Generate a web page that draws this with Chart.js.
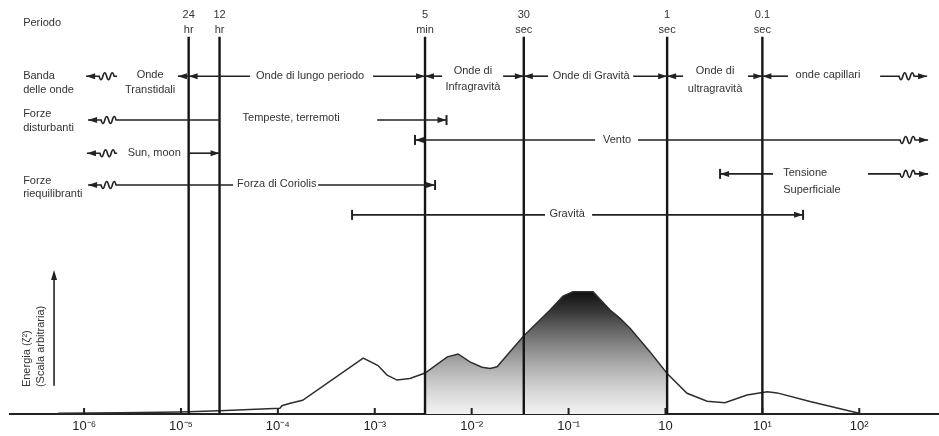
<!DOCTYPE html>
<html>
<head>
<meta charset="utf-8">
<script src="https://cdn.jsdelivr.net/npm/chart.js@4.4.0/dist/chart.umd.min.js"></script>
<style>
  html, body { margin: 0; padding: 0; background: #fff; }
</style>
</head>
<body>
<canvas id="myChart" width="939" height="436"></canvas>
<script>
// spectrum: frequency (Hz) and energy (arbitrary units)
const freq = [5.4e-7, 2.35e-6, 9.8e-6, 2.5e-5, 1.05e-4, 1.1e-4, 1.34e-4, 1.8e-4, 7.6e-4, 1.08e-3,
  1.34e-3, 1.7e-3, 2.31e-3, 3.3e-3, 5.6e-3, 7.25e-3, 9.6e-3, 1.28e-2, 1.55e-2, 1.83e-2,
  3.4e-2, 6.44e-2, 8.77e-2, 0.111, 0.179, 0.268, 0.34, 0.431, 0.693, 1.04,
  1.67, 2.69, 4.1, 6.95, 11.2, 14.2, 31, 99.5];
const energy = [0.2, 0.3, 0.5, 0.8, 1.4, 2.0, 2.6, 3.3, 13.5, 11.7,
  9.4, 8.2, 8.6, 9.9, 13.8, 14.5, 12.6, 11.3, 11.0, 11.4,
  18.7, 25.1, 28.5, 29.5, 29.5, 25.1, 23.1, 20.7, 15.0, 9.8,
  5.0, 3.1, 2.7, 4.6, 5.4, 5.1, 3.0, 0.2];

const tickValues = [1e-6, 1e-5, 1e-4, 1e-3, 1e-2, 1e-1, 1, 10, 100];
const tickLabels = ['10⁻⁶', '10⁻⁵', '10⁻⁴', '10⁻³', '10⁻²', '10⁻¹', '10', '10¹', '10²'];

// period lines (Hz) and their labels
const periodFreq = [1.2e-5, 2.5e-5, 3.3e-3, 3.45e-2, 1.04, 10];
const periodNum = ['24', '12', '5', '30', '1', '0.1'];
const periodUnit = ['hr', 'hr', 'min', 'sec', 'sec', 'sec'];

// shaded band: 5 min .. 1 sec
const bandLow = 3.3e-3, bandHigh = 1.04;

const FONT = '"Liberation Sans", Arial, sans-serif';
Chart.defaults.font.family = FONT;

// text notes: x in Hz, y in the 0-100 vertical units
const notes = [
  { t: 'Periodo', x: 2.35e-7, y: 94.4, a: 'left' },
  { t: 'Banda', x: 2.35e-7, y: 81.6, a: 'left' },
  { t: 'delle onde', x: 2.35e-7, y: 78.3, a: 'left' },
  { t: 'Forze', x: 2.35e-7, y: 72.5, a: 'left' },
  { t: 'disturbanti', x: 2.35e-7, y: 69.1, a: 'left' },
  { t: 'Forze', x: 2.35e-7, y: 56.3, a: 'left' },
  { t: 'riequilibranti', x: 2.35e-7, y: 53.1, a: 'left' },
  { t: 'Onde', x: 4.8e-6, y: 81.9, a: 'center' },
  { t: 'Transtidali', x: 4.8e-6, y: 78.3, a: 'center' },
  { t: 'Onde di lungo periodo', x: 2.15e-4, y: 81.6, a: 'center' },
  { t: 'Onde di', x: 1.03e-2, y: 82.8, a: 'center' },
  { t: 'Infragravità', x: 1.03e-2, y: 79.0, a: 'center' },
  { t: 'Onde di Gravità', x: 0.171, y: 81.6, a: 'center' },
  { t: 'Onde di', x: 3.25, y: 82.8, a: 'center' },
  { t: 'ultragravità', x: 3.25, y: 78.5, a: 'center' },
  { t: 'onde capillari', x: 47.6, y: 81.9, a: 'center' },
  { t: 'Tempeste, terremoti', x: 1.37e-4, y: 71.5, a: 'center' },
  { t: 'Vento', x: 0.316, y: 66.2, a: 'center' },
  { t: 'Sun, moon', x: 5.3e-6, y: 63.0, a: 'center' },
  { t: 'Tensione', x: 16.4, y: 58.2, a: 'left' },
  { t: 'Superficiale', x: 16.4, y: 54.1, a: 'left' },
  { t: 'Forza di Coriolis', x: 3.79e-5, y: 55.5, a: 'left' },
  { t: 'Gravità', x: 9.66e-2, y: 48.3, a: 'center' }
];

// arrow spans: start/end = arrow | wave | bar | arrowbar | none
const spans = [
  { from: 1.05e-6, to: 2.19e-6, y: 81.6, start: 'wave', end: 'none' },
  { from: 9.3e-6, to: 1.2e-5, y: 81.6, start: 'arrow', end: 'none' },
  { from: 1.2e-5, to: 5.16e-5, y: 81.6, start: 'arrow', end: 'none' },
  { from: 9.6e-4, to: 3.3e-3, y: 81.6, start: 'none', end: 'arrow' },
  { from: 3.3e-3, to: 4.96e-3, y: 81.6, start: 'arrow', end: 'none' },
  { from: 2.11e-2, to: 3.45e-2, y: 81.6, start: 'none', end: 'arrow' },
  { from: 3.45e-2, to: 6.14e-2, y: 81.6, start: 'arrow', end: 'none' },
  { from: 0.464, to: 1.04, y: 81.6, start: 'none', end: 'arrow' },
  { from: 1.04, to: 1.52, y: 81.6, start: 'arrow', end: 'none' },
  { from: 7.1, to: 10, y: 81.6, start: 'none', end: 'arrow' },
  { from: 10, to: 18.4, y: 81.6, start: 'arrow', end: 'none' },
  { from: 164, to: 501, y: 81.6, start: 'none', end: 'wave' },
  { from: 1.1e-6, to: 2.5e-5, y: 71.0, start: 'wave', end: 'none' },
  { from: 1.06e-3, to: 5.5e-3, y: 71.0, start: 'none', end: 'arrowbar' },
  { from: 2.6e-3, to: 0.188, y: 66.2, start: 'arrowbar', end: 'none' },
  { from: 0.521, to: 513, y: 66.2, start: 'none', end: 'wave' },
  { from: 1.07e-6, to: 2.19e-6, y: 63.0, start: 'wave', end: 'none' },
  { from: 1.2e-5, to: 2.5e-5, y: 63.0, start: 'none', end: 'arrow' },
  { from: 3.66, to: 12.9, y: 58.0, start: 'arrowbar', end: 'none' },
  { from: 123, to: 513, y: 58.0, start: 'none', end: 'wave' },
  { from: 1.1e-6, to: 3.45e-5, y: 55.3, start: 'wave', end: 'none' },
  { from: 2.6e-4, to: 4.19e-3, y: 55.3, start: 'none', end: 'arrowbar' },
  { from: 5.83e-4, to: 5.71e-2, y: 48.1, start: 'bar', end: 'none' },
  { from: 0.175, to: 26.3, y: 48.1, start: 'none', end: 'arrowbar' }
];

const lineTop = 91.1;

function head(ctx, x, y, dir) {
  ctx.beginPath();
  ctx.moveTo(x, y);
  ctx.lineTo(x - dir * 9, y - 3);
  ctx.lineTo(x - dir * 9, y + 3);
  ctx.closePath();
  ctx.fill();
}
function bar(ctx, x, y) {
  ctx.fillRect(x - 1, y - 5, 2, 10);
}
function squiggle(ctx, x, y, w) {
  const h = w / 4;
  for (let k = 0; k < 4; k++) {
    const s = k % 2 ? -1 : 1;
    ctx.quadraticCurveTo(x + k * h + h / 2, y + s * 7, x + (k + 1) * h, y);
  }
}

const annotate = {
  id: 'annotate',
  afterDatasetsDraw(chart) {
    const ctx = chart.ctx;
    const xs = chart.scales.x, ys = chart.scales.y;
    const px = v => xs.getPixelForValue(v);
    const py = v => ys.getPixelForValue(v);
    ctx.save();
    ctx.fillStyle = '#222';
    ctx.strokeStyle = '#222';
    ctx.lineWidth = 1.6;

    // axis ticks
    tickValues.forEach(v => {
      ctx.fillRect(px(v) - 1, py(0) - 6, 2, 6);
    });

    // arrows
    spans.forEach(s => {
      const x1 = px(s.from), x2 = px(s.to), y = py(s.y);
      ctx.beginPath();
      ctx.moveTo(x1, y);
      if (s.start === 'wave') { ctx.lineTo(x1 + 13, y); squiggle(ctx, x1 + 13, y, 15); }
      if (s.end === 'wave') { ctx.lineTo(x2 - 28, y); squiggle(ctx, x2 - 28, y, 15); }
      ctx.lineTo(x2, y);
      ctx.stroke();
      if (['arrow', 'wave', 'arrowbar'].includes(s.start)) head(ctx, x1, y, -1);
      if (['bar', 'arrowbar'].includes(s.start)) bar(ctx, x1, y);
      if (['arrow', 'wave', 'arrowbar'].includes(s.end)) head(ctx, x2, y, 1);
      if (['bar', 'arrowbar'].includes(s.end)) bar(ctx, x2, y);
    });

    // y arrow
    const ax = px(4.9e-7);
    ctx.beginPath();
    ctx.moveTo(ax, py(6.8));
    ctx.lineTo(ax, py(33));
    ctx.stroke();
    ctx.beginPath();
    ctx.moveTo(ax, py(34.8));
    ctx.lineTo(ax - 3, py(34.8) + 10);
    ctx.lineTo(ax + 3, py(34.8) + 10);
    ctx.closePath();
    ctx.fill();

    // texts
    ctx.font = '11px ' + FONT;
    ctx.fillStyle = '#333';
    ctx.textBaseline = 'middle';
    notes.forEach(n => {
      ctx.textAlign = n.a;
      ctx.fillText(n.t, px(n.x), py(n.y));
    });
    ctx.textAlign = 'center';
    periodFreq.forEach((f, i) => {
      ctx.fillText(periodNum[i], px(f), py(96.4));
      ctx.fillText(periodUnit[i], px(f), py(92.8));
    });

    // rotated y label
    [['Energia (ζ²)', 2.58e-7], ['(Scala arbitraria)', 3.6e-7]].forEach(([t, x]) => {
      ctx.save();
      ctx.translate(px(x), py(6.5));
      ctx.rotate(-Math.PI / 2);
      ctx.textAlign = 'left';
      ctx.fillText(t, 0, 0);
      ctx.restore();
    });
    ctx.restore();
  }
};

const curve = freq.map((f, i) => ({ x: f, y: energy[i] }));
const band = curve.filter(p => p.x >= bandLow && p.x <= bandHigh);
const periodPts = [];
periodFreq.forEach(f => {
  periodPts.push({ x: f, y: 0 }, { x: f, y: lineTop }, { x: f, y: null });
});

const ctx = document.getElementById('myChart');

new Chart(ctx, {
  type: 'line',
  data: {
    datasets: [{
      label: 'Periodi',
      data: periodPts,
      borderColor: '#151515',
      borderWidth: 2.4,
      pointRadius: 0,
      spanGaps: false,
      order: 0
    }, {
      label: 'Energia',
      data: curve,
      borderColor: '#2e2e2e',
      borderWidth: 1.5,
      pointRadius: 0,
      tension: 0,
      fill: false,
      order: 1
    }, {
      label: 'Banda',
      data: band,
      borderWidth: 0,
      pointRadius: 0,
      tension: 0,
      fill: 'origin',
      backgroundColor: (c) => {
        const chart = c.chart;
        if (!chart.chartArea) return '#ccc';
        const y = chart.scales.y;
        const g = chart.ctx.createLinearGradient(0, y.getPixelForValue(30), 0, y.getPixelForValue(0));
        g.addColorStop(0, '#0d0d0d');
        g.addColorStop(0.16, '#333');
        g.addColorStop(0.32, '#636363');
        g.addColorStop(0.46, '#888');
        g.addColorStop(0.59, '#a8a8a8');
        g.addColorStop(0.73, '#c6c6c6');
        g.addColorStop(0.86, '#dedede');
        g.addColorStop(1, '#f2f2f2');
        return g;
      },
      order: 3
    }]
  },
  options: {
    responsive: false,
    animation: false,
    layout: { padding: { left: 10, right: 0, top: 0, bottom: 1 } },
    plugins: { legend: { display: false }, tooltip: { enabled: false } },
    scales: {
      x: {
        type: 'logarithmic',
        min: 1.72e-7,
        max: 665,
        grid: { display: false, drawTicks: false },
        border: { display: true, color: '#222', width: 2 },
        afterBuildTicks: (axis) => { axis.ticks = tickValues.map(v => ({ value: v })); },
        afterFit: (axis) => { axis.height = 21; },
        ticks: {
          autoSkip: false,
          maxRotation: 0,
          padding: 5,
          color: '#222',
          font: { size: 13 },
          callback: (v, i) => tickLabels[i]
        }
      },
      y: { display: false, min: 0, max: 100 }
    }
  },
  plugins: [annotate]
});
</script>
</body>
</html>
